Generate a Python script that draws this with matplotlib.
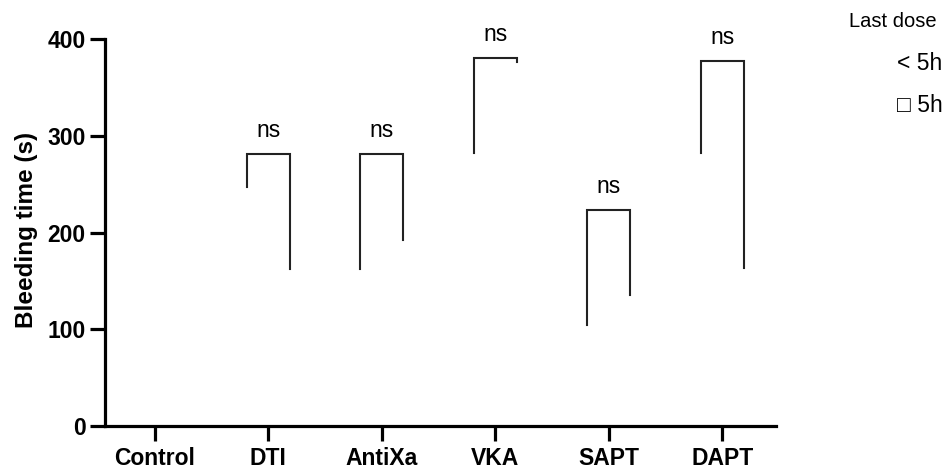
import matplotlib
matplotlib.use("Agg")
import matplotlib.pyplot as plt

plt.rcParams['font.family'] = ['Liberation Sans', 'DejaVu Sans']

# categories on the x axis
categories = ["Control", "DTI", "AntiXa", "VKA", "SAPT", "DAPT"]

# significance brackets (< 5h vs >= 5h within each group)
bracket_groups = ["DTI", "AntiXa", "VKA", "SAPT", "DAPT"]
bracket_top = [281, 281, 380, 223, 377]
bracket_left_end = [247, 162, 282, 104, 282]
bracket_right_end = [162, 192, 376, 135, 163]
bracket_labels = ["ns", "ns", "ns", "ns", "ns"]

y_ticks = [0, 100, 200, 300, 400]
legend_title = "Last dose"
legend_entries = ["< 5h", "\u25a1 5h"]

fig = plt.figure(figsize=(9.46, 4.71), dpi=100)
ax = fig.add_axes([0.111, 0.0955, 0.709, 0.8215])

half = 0.19
for grp, top, lo_l, lo_r, lab in zip(bracket_groups, bracket_top, bracket_left_end,
                                     bracket_right_end, bracket_labels):
    xc = categories.index(grp)
    ax.plot([xc - half, xc - half, xc + half, xc + half], [lo_l, top, top, lo_r],
            color='#222222', lw=1.5, solid_joinstyle='miter', clip_on=False)
    ax.annotate(lab, xy=(xc, top), xytext=(0, 12.5), textcoords='offset points',
                ha='center', va='baseline', fontsize=16.5)

ax.set_xlim(-0.44, 5.47)
ax.set_ylim(0, 400)
ax.set_xticks(range(len(categories)))
ax.set_xticklabels(categories, fontsize=16.5, fontweight='bold')
ax.set_yticks(y_ticks)
ax.set_yticklabels([str(v) for v in y_ticks], fontsize=16.5, fontweight='bold')

for side in ['top', 'right']:
    ax.spines[side].set_visible(False)
for side in ['left', 'bottom']:
    ax.spines[side].set_linewidth(2.3)
ax.tick_params(axis='both', width=2.3, length=11, color='black')
ax.tick_params(axis='x', pad=4)
ax.tick_params(axis='y', pad=3)

ax.set_ylabel("Bleeding time (s)", fontsize=17.5, fontweight='bold')
ax.yaxis.set_label_coords(-0.1, 0.506)

fig.text(0.99, 0.955, legend_title, ha='right', va='center', fontsize=14.5)
fig.text(0.948, 0.866, legend_entries[0], ha='left', va='center', fontsize=16.5)
fig.text(0.948, 0.777, legend_entries[1], ha='left', va='center', fontsize=16.5)

fig.savefig("out.png", dpi=100)
